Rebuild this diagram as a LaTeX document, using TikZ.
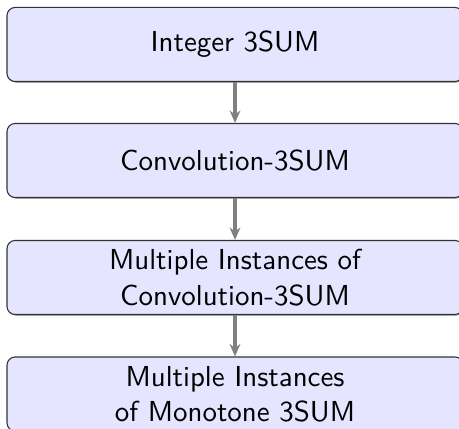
\documentclass[tikz,border=0pt]{standalone}
\usepackage{tikz}
\usetikzlibrary{arrows.meta,shadows}

\tikzset{
  redbox/.style={draw=black!80, fill=blue!10, rounded corners=3pt,
    minimum width=168.7pt, minimum height=27.4pt, inner sep=2pt,
    align=center, font=\sffamily\fontsize{10.7}{13.1}\selectfont,
    drop shadow={shadow xshift=0.4pt, shadow yshift=-0.4pt, opacity=0.45, fill=black}},
  redarrow/.style={draw=black!50, line width=1.3pt, -{Stealth[length=4.6pt,width=4pt]}},
}

\begin{document}
\begin{tikzpicture}[x=0.37pt, y=-0.37pt]
  \useasboundingbox (0,0) rectangle (459,429);
  \clip (0,0) rectangle (459,429);

  % Reductions
  \node[redbox] (int3sum) at (235, 44.5) {Integer 3SUM};
  \node[redbox] (conv) at (235, 160.5) {Convolution-3SUM};
  \node[redbox] (multconv) at (235, 277.5) {Multiple Instances of\\Convolution-3SUM};
  \node[redbox] (multmono) at (235, 394) {Multiple Instances\\of Monotone 3SUM};

  \draw[redarrow] (int3sum) -- (conv);
  \draw[redarrow] (conv) -- (multconv);
  \draw[redarrow] (multconv) -- (multmono);
\end{tikzpicture}
\end{document}
